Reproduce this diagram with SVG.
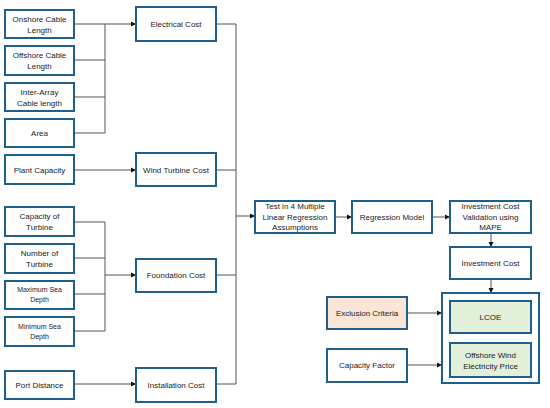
<svg xmlns="http://www.w3.org/2000/svg" width="550" height="408" viewBox="0 0 550 408">
<style>
.b{fill:#fff;stroke:#1f5f8b;stroke-width:2}
.g{fill:#e2efd9;stroke:#1f5f8b;stroke-width:2}
.o{fill:#fbe5d6;stroke:#1f5f8b;stroke-width:2}
.c{fill:none;stroke:#1f5f8b;stroke-width:2}
text{font-family:"Liberation Sans",Arial,sans-serif;font-size:8px;fill:#222;text-anchor:middle}
.s{font-size:7px}
.l{fill:none;stroke:#555;stroke-width:1}
</style>
<defs>
<marker id="a" markerWidth="6" markerHeight="6" refX="5" refY="3" orient="auto" markerUnits="userSpaceOnUse">
<path d="M0,0.5 L5,3 L0,5.5 Z" fill="#111"/>
</marker>
</defs>
<rect width="550" height="408" fill="#fff"/>
<g id="connectors">
<path class="l" d="M74,24 H105 M74,60 H105 M74,97 H105 M74,133 H105 M105,24 V133"/>
<path class="l" d="M105,24 H136" marker-end="url(#a)"/>
<path class="l" d="M74,170 H136" marker-end="url(#a)"/>
<path class="l" d="M74,222 H105 M74,258 H105 M74,294 H105 M74,331 H105 M105,222 V331"/>
<path class="l" d="M105,275 H136" marker-end="url(#a)"/>
<path class="l" d="M74,384 H136" marker-end="url(#a)"/>
<path class="l" d="M216,24 H236 M216,170 H236 M216,275 H236 M216,384 H236 M236,24 V384"/>
<path class="l" d="M236,216 H255" marker-end="url(#a)"/>
<path class="l" d="M335,217 H352" marker-end="url(#a)"/>
<path class="l" d="M432,217 H450" marker-end="url(#a)"/>
<path class="l" d="M491,233 V247" marker-end="url(#a)"/>
<path class="l" d="M491,279 V293" marker-end="url(#a)"/>
<path class="l" d="M407,313 H442" marker-end="url(#a)"/>
<path class="l" d="M407,365 H442" marker-end="url(#a)"/>
</g>
<g id="onshore"><rect class="b" x="5" y="10" width="69" height="28"/><text x="39.5" y="22">Onshore Cable</text><text x="39.5" y="33">Length</text></g>
<g id="offshore"><rect class="b" x="5" y="46" width="69" height="29"/><text x="39.5" y="58">Offshore Cable</text><text x="39.5" y="69">Length</text></g>
<g id="interarray"><rect class="b" x="5" y="83" width="69" height="28"/><text x="39.5" y="95">Inter-Array</text><text x="39.5" y="106">Cable length</text></g>
<g id="area"><rect class="b" x="5" y="119" width="69" height="28"/><text x="39.5" y="136">Area</text></g>
<g id="plantcap"><rect class="b" x="5" y="155" width="69" height="29"/><text x="39.5" y="173">Plant Capacity</text></g>
<g id="capturb"><rect class="b" x="5" y="207" width="69" height="29"/><text x="39.5" y="219">Capacity of</text><text x="39.5" y="230">Turbine</text></g>
<g id="numturb"><rect class="b" x="5" y="244" width="69" height="29"/><text x="39.5" y="256">Number of</text><text x="39.5" y="267">Turbine</text></g>
<g id="maxdepth"><rect class="b" x="5" y="281" width="69" height="28"/><text class="s" x="39.5" y="292">Maximum Sea</text><text class="s" x="39.5" y="302">Depth</text></g>
<g id="mindepth"><rect class="b" x="5" y="317" width="69" height="29"/><text class="s" x="39.5" y="329">Minimum Sea</text><text class="s" x="39.5" y="339">Depth</text></g>
<g id="port"><rect class="b" x="5" y="371" width="69" height="28"/><text x="39.5" y="388">Port Distance</text></g>
<g id="electrical"><rect class="b" x="136" y="7" width="80" height="34"/><text x="176" y="27">Electrical Cost</text></g>
<g id="windturbine"><rect class="b" x="136" y="153" width="80" height="33"/><text x="176" y="173">Wind Turbine Cost</text></g>
<g id="foundation"><rect class="b" x="136" y="259" width="80" height="33"/><text x="176" y="278">Foundation Cost</text></g>
<g id="installation"><rect class="b" x="136" y="368" width="80" height="34"/><text x="176" y="388">Installation Cost</text></g>
<g id="test"><rect class="b" x="255" y="201" width="80" height="32"/><text x="295" y="209">Test in 4 Multiple</text><text x="295" y="219.5">Linear Regression</text><text x="295" y="230">Assumptions</text></g>
<g id="regression"><rect class="b" x="352" y="201" width="80" height="32"/><text x="392" y="220">Regression Model</text></g>
<g id="validation"><rect class="b" x="450" y="201" width="81" height="32"/><text x="490.5" y="209">Investment Cost</text><text x="490.5" y="219.5">Validation using</text><text x="490.5" y="230">MAPE</text></g>
<g id="investment"><rect class="b" x="450" y="247" width="81" height="32"/><text x="490.5" y="266">Investment Cost</text></g>
<g id="container"><rect class="c" x="442" y="293" width="97" height="90"/></g>
<g id="lcoe"><rect class="g" x="450" y="301" width="81" height="32"/><text x="490.5" y="320">LCOE</text></g>
<g id="price"><rect class="g" x="450" y="343" width="81" height="34"/><text x="490.5" y="358">Offshore Wind</text><text x="490.5" y="369">Electricity Price</text></g>
<g id="exclusion"><rect class="o" x="327" y="297" width="80" height="32"/><text x="367" y="316">Exclusion Criteria</text></g>
<g id="capfactor"><rect class="b" x="327" y="349" width="80" height="33"/><text x="367" y="368">Capacity Factor</text></g>
</svg>
